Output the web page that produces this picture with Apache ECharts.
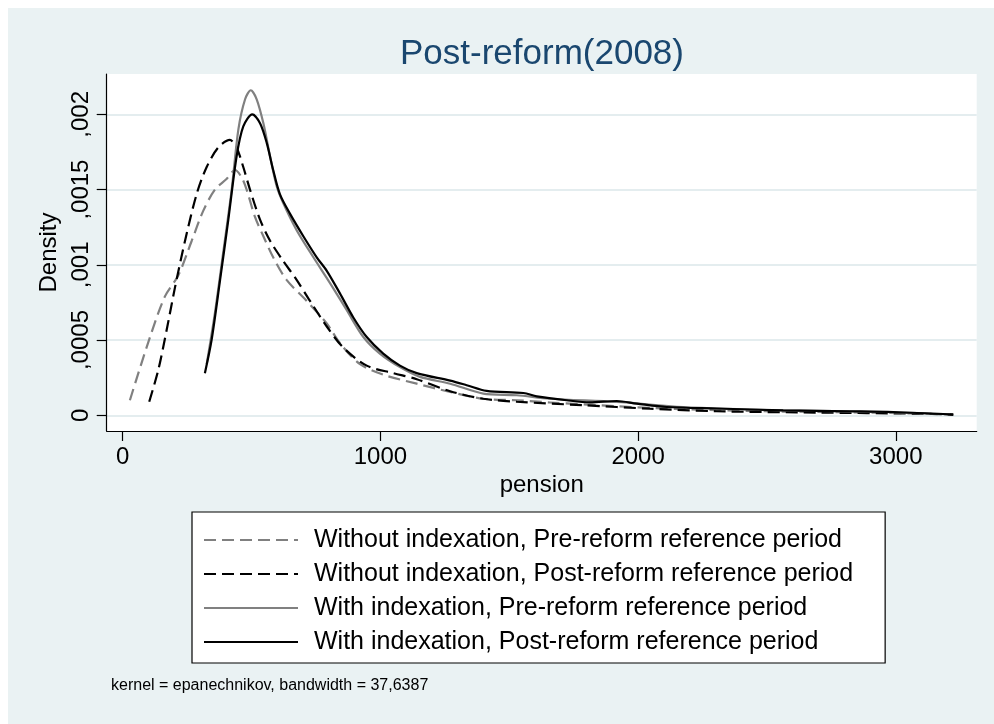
<!DOCTYPE html>
<html>
<head>
<meta charset="utf-8">
<script src="https://cdn.jsdelivr.net/npm/echarts@6/dist/echarts.min.js"></script>
<style>
html,body{margin:0;padding:0;background:#fff;}
#chart{width:994px;height:724px;}
</style>
</head>
<body>
<div id="chart"></div>
<script>
// ---- data ----
const titleText = 'Post-reform(2008)';
const noteText = 'kernel = epanechnikov, bandwidth = 37,6387';
const xTitle = 'pension';
const yTitle = 'Density';
const xTickValues = [0, 1000, 2000, 3000];
const xTickLabels = ['0', '1000', '2000', '3000'];
const yTickValues = [0, 0.0005, 0.001, 0.0015, 0.002];
const yTickLabels = ['0', ',0005', ',001', ',0015', ',002'];
const seriesNames = [
  'Without indexation, Pre-reform reference period',
  'Without indexation, Post-reform reference period',
  'With indexation, Pre-reform reference period',
  'With indexation, Post-reform reference period'
];

const woPreX = [28, 106, 164, 216, 268, 313, 358, 403, 436, 462, 481, 513, 546, 584, 636, 714, 792, 843, 921, 1011, 1141, 1271, 1399, 1529, 1658, 1917, 2175, 2562, 2951, 3223];
const woPreY = [0.0001, 0.00052, 0.00079, 0.00093, 0.00116, 0.00136, 0.0015, 0.00157, 0.00163, 0.00158, 0.0015, 0.00132, 0.00119, 0.00105, 0.0009, 0.00076, 0.00061, 0.00048, 0.00034, 0.00027, 0.00021, 0.000155, 0.00011, 0.0001, 0.000085, 0.00006, 0.00004, 0.000025, 0.000017, 0.000005];

const woPostX = [103, 138, 171, 203, 242, 287, 326, 371, 416, 442, 468, 494, 533, 572, 617, 675, 727, 792, 856, 947, 1050, 1141, 1271, 1399, 1529, 1787, 2046, 2305, 2693, 3081, 3223];
const woPostY = [0.00009, 0.0003, 0.00057, 0.00085, 0.00116, 0.00147, 0.00165, 0.00178, 0.00183, 0.00178, 0.00165, 0.0015, 0.0013, 0.00116, 0.00104, 0.0009, 0.00076, 0.00059, 0.00045, 0.00033, 0.00028, 0.00024, 0.00016, 0.00011, 0.00009, 0.000067, 0.000044, 0.000027, 0.000018, 0.000011, 0.000005];

const wPreX = [326, 358, 390, 423, 449, 475, 497, 520, 546, 572, 598, 623, 675, 740, 804, 869, 934, 998, 1076, 1154, 1271, 1399, 1529, 1658, 1917, 2175, 2563, 2951, 3210];
const wPreY = [0.00034, 0.00068, 0.00108, 0.0015, 0.0019, 0.0021, 0.00216, 0.0021, 0.00194, 0.00172, 0.00152, 0.00141, 0.00123, 0.00105, 0.00088, 0.0007, 0.00052, 0.00041, 0.00032, 0.000255, 0.00021, 0.000144, 0.000133, 0.00011, 0.000089, 0.000055, 0.000033, 0.000022, 0.000007];

const wPostX = [319, 345, 378, 410, 442, 468, 503, 533, 559, 584, 610, 649, 701, 753, 792, 843, 895, 947, 1011, 1076, 1141, 1271, 1335, 1412, 1555, 1607, 1723, 1813, 1917, 1995, 2111, 2305, 2563, 2822, 2990, 3223];
const wPostY = [0.00028, 0.0005, 0.0009, 0.0013, 0.00172, 0.00192, 0.002, 0.00194, 0.00181, 0.00163, 0.00147, 0.00134, 0.00119, 0.00105, 0.00096, 0.00081, 0.00065, 0.00052, 0.00041, 0.00033, 0.00028, 0.00023, 0.0002, 0.000162, 0.000148, 0.000126, 0.0001, 0.000086, 0.000095, 0.000078, 0.000055, 0.000045, 0.000033, 0.000027, 0.000022, 0.000005];

// ---- helpers ----
function zip(xs, ys) { return xs.map((x, i) => [x, ys[i]]); }
function labelFor(values, labels) {
  return function (v) {
    for (let i = 0; i < values.length; i++) {
      if (Math.abs(v - values[i]) < 1e-12) return labels[i];
    }
    return '';
  };
}

const FONT = 'Liberation Sans, Arial, Helvetica, sans-serif';
const GRAY = '#808080';
const BLACK = '#000000';
const BG = '#EAF2F3';
const GRID = '#E4EDEF';

function lineSeries(name, data, color, dashed, z) {
  return {
    name: name,
    type: 'line',
    data: data,
    smooth: 0.3,
    symbol: 'none',
    showSymbol: false,
    z: z,
    lineStyle: { color: color, width: 2.2, type: dashed ? [12, 6] : 'solid' },
    itemStyle: { color: color }
  };
}

const chart = echarts.init(document.getElementById('chart'), null, { renderer: 'canvas' });

const option = {
  backgroundColor: '#ffffff',
  animation: false,
  graphic: [
    { type: 'rect', z: -100, silent: true, shape: { x: 8, y: 8, width: 986, height: 716 }, style: { fill: BG } }
  ],
  title: [
    {
      text: titleText, left: 542, top: 37, textAlign: 'center', padding: 0,
      textStyle: { color: '#1A476F', fontSize: 35, fontWeight: 'normal', fontFamily: FONT }
    },
    {
      text: noteText, left: 111, top: 678, padding: 0,
      textStyle: { color: '#000', fontSize: 16, fontWeight: 'normal', fontFamily: FONT }
    }
  ],
  grid: {
    left: 106.7, top: 74, width: 870, height: 357,
    show: true, backgroundColor: '#ffffff', borderWidth: 0,
    containLabel: false
  },
  legend: {
    orient: 'vertical',
    left: 192, top: 512,
    padding: [15, 32, 8, 11],
    backgroundColor: '#ffffff',
    borderColor: '#000', borderWidth: 1.2, borderRadius: 0,
    itemWidth: 94, itemHeight: 14, itemGap: 8,
    itemStyle: { opacity: 0, borderWidth: 0 },
    data: seriesNames,
    textStyle: { color: '#000', fontSize: 25, lineHeight: 26, fontFamily: FONT, padding: [0, 0, 0, 11] }
  },
  xAxis: {
    type: 'value', min: -62, max: 3314,
    name: xTitle, nameLocation: 'middle', nameGap: 42,
    nameTextStyle: { color: '#000', fontSize: 24, fontFamily: FONT },
    axisLine: { show: true, onZero: false, lineStyle: { color: '#000', width: 1.2 } },
    axisTick: { show: true, inside: false, length: 10, customValues: xTickValues, lineStyle: { color: '#000', width: 1.2 } },
    axisLabel: { show: true, customValues: xTickValues, formatter: labelFor(xTickValues, xTickLabels), margin: 14, color: '#000', fontSize: 24, fontFamily: FONT },
    splitLine: { show: false }
  },
  yAxis: {
    type: 'value', min: -0.0001044, max: 0.002268,
    name: yTitle, nameLocation: 'middle', nameGap: 43, nameRotate: 90,
    nameTextStyle: { color: '#000', fontSize: 24, fontFamily: FONT },
    axisLine: { show: true, onZero: false, lineStyle: { color: '#000', width: 1.2 } },
    axisTick: { show: true, inside: false, length: 10, customValues: yTickValues, lineStyle: { color: '#000', width: 1.2 } },
    axisLabel: { show: true, customValues: yTickValues, formatter: labelFor(yTickValues, yTickLabels), rotate: 90, margin: 13, color: '#000', fontSize: 24, fontFamily: FONT },
    splitLine: { show: true, lineStyle: { color: GRID, width: 2 } }
  },
  series: [
    lineSeries(seriesNames[0], zip(woPreX, woPreY), GRAY, true, 2),
    lineSeries(seriesNames[1], zip(woPostX, woPostY), BLACK, true, 3),
    lineSeries(seriesNames[2], zip(wPreX, wPreY), GRAY, false, 4),
    lineSeries(seriesNames[3], zip(wPostX, wPostY), BLACK, false, 5)
  ]
};
chart.setOption(option);
</script>
</body>
</html>
